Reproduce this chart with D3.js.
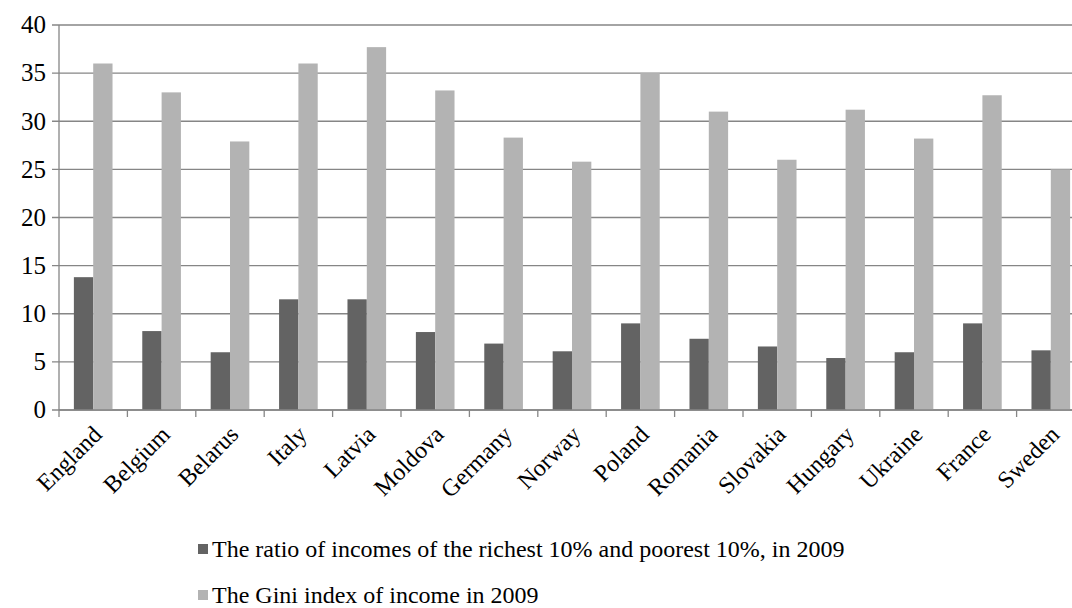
<!DOCTYPE html>
<html>
<head>
<meta charset="utf-8">
<script src="https://cdn.jsdelivr.net/npm/d3@7"></script>
</head>
<body style="margin:0">
<script>
// Data
var countries = ["England", "Belgium", "Belarus", "Italy", "Latvia", "Moldova", "Germany", "Norway",
                 "Poland", "Romania", "Slovakia", "Hungary", "Ukraine", "France", "Sweden"]
var ratio2009 = [13.8, 8.2, 6.0, 11.5, 11.5, 8.1, 6.9, 6.1, 9.0, 7.4, 6.6, 5.4, 6.0, 9.0, 6.2]
var gini2009 = [36.0, 33.0, 27.9, 36.0, 37.7, 33.2, 28.3, 25.8, 35.0, 31.0, 26.0, 31.2, 28.2, 32.7, 25.0]
var yTicks = [0, 5, 10, 15, 20, 25, 30, 35, 40]
var seriesNames = ["The ratio of incomes of the richest 10% and poorest 10%, in 2009",
                   "The Gini index of income in 2009"]
var seriesColors = ["#636363", "#b3b3b3"]

var serifFont = "Times New Roman, Liberation Serif, serif"
var width = 1072, height = 608
var margin = {top: 25, left: 59}
// the plot runs a little past the right edge of the picture, as in the source
var plotW = 1026, plotH = 385

var svg = d3.select("body").append("svg")
    .attr("width", width)
    .attr("height", height)
    .attr("font-family", serifFont)

var g = svg.append("g")
    .attr("transform", "translate(" + margin.left + "," + margin.top + ")")

var xScale = d3.scaleBand()
    .domain(countries)
    .range([0, plotW])
    .paddingInner(0.435)
    .paddingOuter(0.2175)

var yScale = d3.scaleLinear()
    .domain([0, 40])
    .range([plotH, 0])

// gridlines
g.append("g").selectAll("line")
    .data(yTicks)
  .enter().append("line")
    .attr("x1", -7).attr("x2", plotW)
    .attr("y1", function(d) { return yScale(d) }).attr("y2", function(d) { return yScale(d) })
    .attr("stroke", "#868686")
    .attr("stroke-width", 1.3)

// y tick labels
g.append("g").selectAll("text")
    .data(yTicks)
  .enter().append("text")
    .attr("x", -13)
    .attr("y", function(d) { return yScale(d) })
    .attr("dy", "0.33em")
    .attr("text-anchor", "end")
    .attr("font-family", serifFont)
    .attr("font-size", 25)
    .text(function(d) { return d })

// bars
var series = [ratio2009, gini2009]
var barW = xScale.bandwidth() / 2
series.forEach(function(vals, s) {
  g.append("g").selectAll("rect")
      .data(vals)
    .enter().append("rect")
      .attr("x", function(d, i) { return xScale(countries[i]) + s * barW })
      .attr("y", function(d) { return yScale(d) })
      .attr("width", barW)
      .attr("height", function(d) { return yScale(0) - yScale(d) })
      .attr("fill", seriesColors[s])
})

// y axis line
g.append("line")
    .attr("x1", 0).attr("x2", 0)
    .attr("y1", 0).attr("y2", plotH)
    .attr("stroke", "#868686").attr("stroke-width", 1.3)

// x axis with boundary ticks
var step = plotW / countries.length
g.append("line")
    .attr("x1", 0).attr("x2", plotW)
    .attr("y1", plotH).attr("y2", plotH)
    .attr("stroke", "#868686").attr("stroke-width", 1.3)
g.append("g").selectAll("line")
    .data(d3.range(countries.length + 1))
  .enter().append("line")
    .attr("x1", function(i) { return i * step }).attr("x2", function(i) { return i * step })
    .attr("y1", plotH).attr("y2", plotH + 7)
    .attr("stroke", "#868686").attr("stroke-width", 1.3)

// category labels, rotated
g.append("g").selectAll("text")
    .data(countries)
  .enter().append("text")
    .attr("transform", function(d) {
      return "translate(" + (xScale(d) + xScale.bandwidth() / 2 + 4) + "," + (plotH + 20) + ") rotate(-45)"
    })
    .attr("dy", "0.35em")
    .attr("text-anchor", "end")
    .attr("font-family", serifFont)
    .attr("font-size", 24)
    .text(function(d) { return d })

// legend
var legend = svg.append("g")
    .attr("transform", "translate(198,549)")
seriesNames.forEach(function(name, s) {
  var row = legend.append("g").attr("transform", "translate(0," + (s * 46) + ")")
  row.append("rect")
      .attr("x", 0).attr("y", -5)
      .attr("width", 10).attr("height", 10)
      .attr("fill", seriesColors[s])
  row.append("text")
      .attr("x", 14)
      .attr("y", 0)
      .attr("dy", "0.33em")
      .attr("font-family", serifFont)
      .attr("font-size", 24)
      .text(name)
})
</script>
</body>
</html>
